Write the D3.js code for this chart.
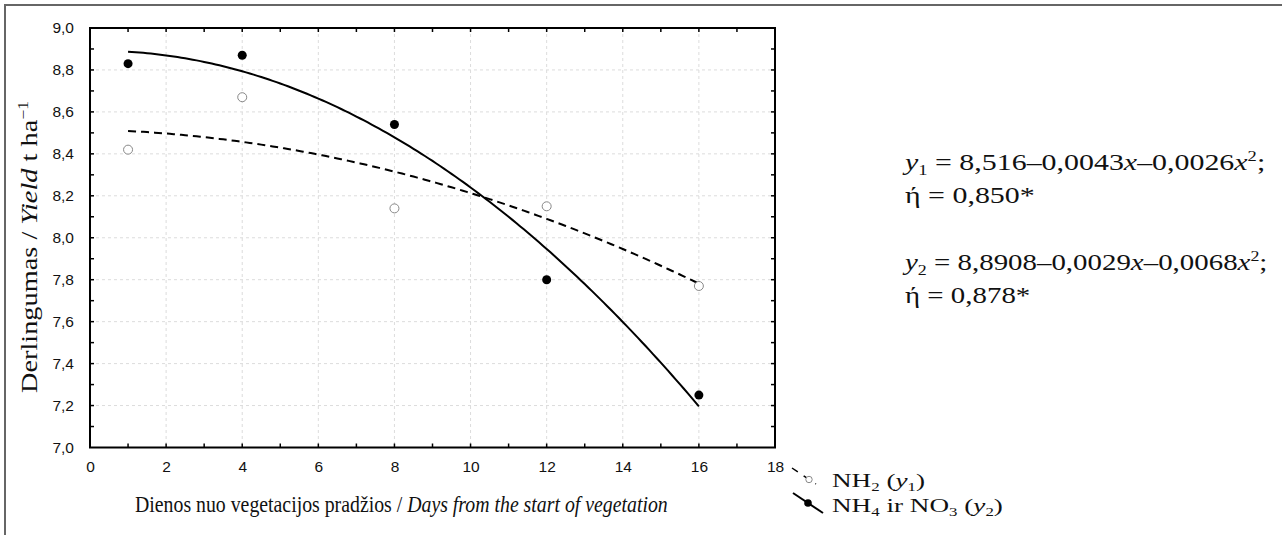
<!DOCTYPE html>
<html>
<head>
<meta charset="utf-8">
<script src="https://cdn.jsdelivr.net/npm/d3@7"></script>
<style>
  body { margin: 0; background: #fff; }
  svg { display: block; }
</style>
</head>
<body>
<svg id="chart" width="1282" height="535"></svg>
<script>
// Sampling days and measured yields (t/ha)
const days = [1, 4, 8, 12, 16];
const yieldNH2 = [8.42, 8.67, 8.14, 8.15, 7.77];
const yieldNH4NO3 = [8.83, 8.87, 8.54, 7.80, 7.25];

// Quadratic fit coefficients [a, b, c] for y = a + b*x + c*x^2
const fitNH2 = [8.516, -0.0043, -0.0026];
const fitNH4NO3 = [8.8908, 0.0029, -0.0068];
const fitRange = [1, 16];

// Axis ticks
const xTicks = [0, 2, 4, 6, 8, 10, 12, 14, 16, 18];
const yTicks = [7.0, 7.2, 7.4, 7.6, 7.8, 8.0, 8.2, 8.4, 8.6, 8.8, 9.0];

const svg = d3.select("#chart");
const serif = "'Liberation Serif', 'Times New Roman', serif";
const sans = "'Liberation Sans', Arial, sans-serif";

const x = d3.scaleLinear().domain([0, 18]).range([90, 775]);
const y = d3.scaleLinear().domain([7, 9]).range([447.5, 28]);
const fmt = d3.formatLocale({ decimal: ",", thousands: " ", grouping: [3], currency: ["", ""] });

// Outer figure frame (top and left edges visible)
svg.append("path")
  .attr("d", "M5,545 L5,5 L1290,5")
  .attr("fill", "none").attr("stroke", "#666").attr("stroke-width", 2);

// Grid
const grid = svg.append("g").attr("stroke", "#dcdcdc").attr("stroke-width", 1).attr("stroke-dasharray", "3,3");
grid.selectAll("line.gx").data(xTicks.slice(1, -1)).join("line")
  .attr("x1", d => x(d)).attr("x2", d => x(d)).attr("y1", y(9)).attr("y2", y(7));
grid.selectAll("line.gy").data(yTicks.slice(1, -1)).join("line")
  .attr("y1", d => y(d)).attr("y2", d => y(d)).attr("x1", x(0)).attr("x2", x(18));

// Minor/major inward ticks on all four sides
const xMinor = d3.range(1, 18, 1);
const yMinor = d3.range(71, 90, 1).map(v => v / 10);
const tk = svg.append("g").attr("stroke", "#000").attr("stroke-width", 1.5);
const tl = 4;
tk.selectAll("line.b").data(xMinor).join("line")
  .attr("x1", d => x(d)).attr("x2", d => x(d)).attr("y1", y(7)).attr("y2", y(7) - tl);
tk.selectAll("line.t").data(xMinor).join("line")
  .attr("x1", d => x(d)).attr("x2", d => x(d)).attr("y1", y(9)).attr("y2", y(9) + tl);
tk.selectAll("line.l").data(yMinor).join("line")
  .attr("y1", d => y(d)).attr("y2", d => y(d)).attr("x1", x(0)).attr("x2", x(0) + tl);
tk.selectAll("line.r").data(yMinor).join("line")
  .attr("y1", d => y(d)).attr("y2", d => y(d)).attr("x1", x(18)).attr("x2", x(18) - tl);

// Tick labels via d3 axes
const xAxis = svg.append("g").attr("transform", `translate(0,${y(7)})`)
  .call(d3.axisBottom(x).tickValues(xTicks).tickSize(0).tickPadding(13).tickFormat(d3.format("d")));
const yAxis = svg.append("g").attr("transform", `translate(${x(0)},0)`)
  .call(d3.axisLeft(y).tickValues(yTicks).tickSize(0).tickPadding(16).tickFormat(fmt.format(".1f")));
[xAxis, yAxis].forEach(a => {
  a.select(".domain").remove();
  a.selectAll("text").attr("font-family", sans).attr("font-size", 15.5).attr("fill", "#111");
});

// Plot frame
svg.append("rect")
  .attr("x", x(0)).attr("y", y(9)).attr("width", x(18) - x(0)).attr("height", y(7) - y(9))
  .attr("fill", "none").attr("stroke", "#000").attr("stroke-width", 2);

// Fitted curves
const curvePts = c => d3.range(fitRange[0], fitRange[1] + 0.001, 0.1)
  .map(v => [v, c[0] + c[1] * v + c[2] * v * v]);
const line = d3.line().x(d => x(d[0])).y(d => y(d[1]));
svg.append("path").attr("d", line(curvePts(fitNH2)))
  .attr("fill", "none").attr("stroke", "#000").attr("stroke-width", 2).attr("stroke-dasharray", "8,5");
svg.append("path").attr("d", line(curvePts(fitNH4NO3)))
  .attr("fill", "none").attr("stroke", "#000").attr("stroke-width", 2);

// Observed points
svg.append("g").selectAll("circle").data(days.map((d, i) => [d, yieldNH2[i]])).join("circle")
  .attr("cx", d => x(d[0])).attr("cy", d => y(d[1])).attr("r", 4.5)
  .attr("fill", "#fff").attr("stroke", "#888").attr("stroke-width", 1);
svg.append("g").selectAll("circle").data(days.map((d, i) => [d, yieldNH4NO3[i]])).join("circle")
  .attr("cx", d => x(d[0])).attr("cy", d => y(d[1])).attr("r", 4.5)
  .attr("fill", "#000");

// Rich text helper: parts of {t, i (italic), sub, sup}
function rich(g, parts, size) {
  const t = g.append("text").attr("font-family", serif).attr("font-size", size).attr("fill", "#111");
  let shift = 0;
  parts.forEach(p => {
    const target = p.sub ? size * 0.22 : p.sup ? -size * 0.38 : 0;
    const s = t.append("tspan").text(p.t).attr("dy", target - shift);
    shift = target;
    if (p.i) s.attr("font-style", "italic");
    if (p.sub || p.sup) s.attr("font-size", size * 0.62);
  });
  return t;
}
// Place text group so its width fits a given span
function fitGroup(g, x0, yb, width, rotate) {
  const w = g.node().getBBox().width;
  const k = width / w;
  g.attr("transform", rotate
    ? `translate(${x0},${yb}) rotate(-90) scale(${k},1)`
    : `translate(${x0},${yb}) scale(${k},1)`);
  return k;
}

// X axis title
const xt = svg.append("g");
rich(xt, [{ t: "Dienos nuo vegetacijos pradžios / " }, { t: "Days from the start of vegetation", i: true }], 23);
fitGroup(xt, 135, 512, 533);

// Y axis title
const yt = svg.append("g");
rich(yt, [{ t: "Derlingumas / " }, { t: "Yield", i: true }, { t: " t ha" }, { t: "−1", sup: true }], 23);
fitGroup(yt, 37, 393, 292, true);

// Equations
const eqSize = 23;
const e1 = svg.append("g");
rich(e1, [{ t: "y", i: true }, { t: "1", sub: true }, { t: " = 8,516–0,0043" }, { t: "x", i: true },
  { t: "–0,0026" }, { t: "x", i: true }, { t: "2", sup: true }, { t: ";" }], eqSize);
const k1 = fitGroup(e1, 905, 170, 363);
const e2 = svg.append("g");
rich(e2, [{ t: "ή = 0,850*" }], eqSize);
e2.attr("transform", `translate(905,203) scale(${k1},1)`);
const e3 = svg.append("g");
rich(e3, [{ t: "y", i: true }, { t: "2", sub: true }, { t: " = 8,8908–0,0029" }, { t: "x", i: true },
  { t: "–0,0068" }, { t: "x", i: true }, { t: "2", sup: true }, { t: ";" }], eqSize);
const k3 = fitGroup(e3, 905, 270, 365);
const e4 = svg.append("g");
rich(e4, [{ t: "ή = 0,878*" }], eqSize);
e4.attr("transform", `translate(905,303) scale(${k3},1)`);

// Legend
const lg = svg.append("g");
lg.append("line").attr("x1", 792).attr("y1", 468).attr("x2", 816).attr("y2", 484)
  .attr("stroke", "#000").attr("stroke-width", 1.5).attr("stroke-dasharray", "7,7");
lg.append("circle").attr("cx", 809).attr("cy", 479.5).attr("r", 3.2)
  .attr("fill", "#fff").attr("stroke", "#888").attr("stroke-width", 1);
lg.append("line").attr("x1", 793).attr("y1", 493).attr("x2", 823).attr("y2", 513)
  .attr("stroke", "#000").attr("stroke-width", 2);
lg.append("circle").attr("cx", 808).attr("cy", 503).attr("r", 3.8).attr("fill", "#000");

const legSize = 19.5;
const l1 = svg.append("g");
rich(l1, [{ t: "NH" }, { t: "2", sub: true }, { t: " (" }, { t: "y", i: true }, { t: "1", sub: true }, { t: ")" }], legSize);
const l2 = svg.append("g");
rich(l2, [{ t: "NH" }, { t: "4", sub: true }, { t: " ir NO" }, { t: "3", sub: true }, { t: " (" },
  { t: "y", i: true }, { t: "2", sub: true }, { t: ")" }], legSize);
const kl = fitGroup(l2, 832, 512, 171);
l1.attr("transform", `translate(832,487) scale(${kl},1)`);
</script>
</body>
</html>
